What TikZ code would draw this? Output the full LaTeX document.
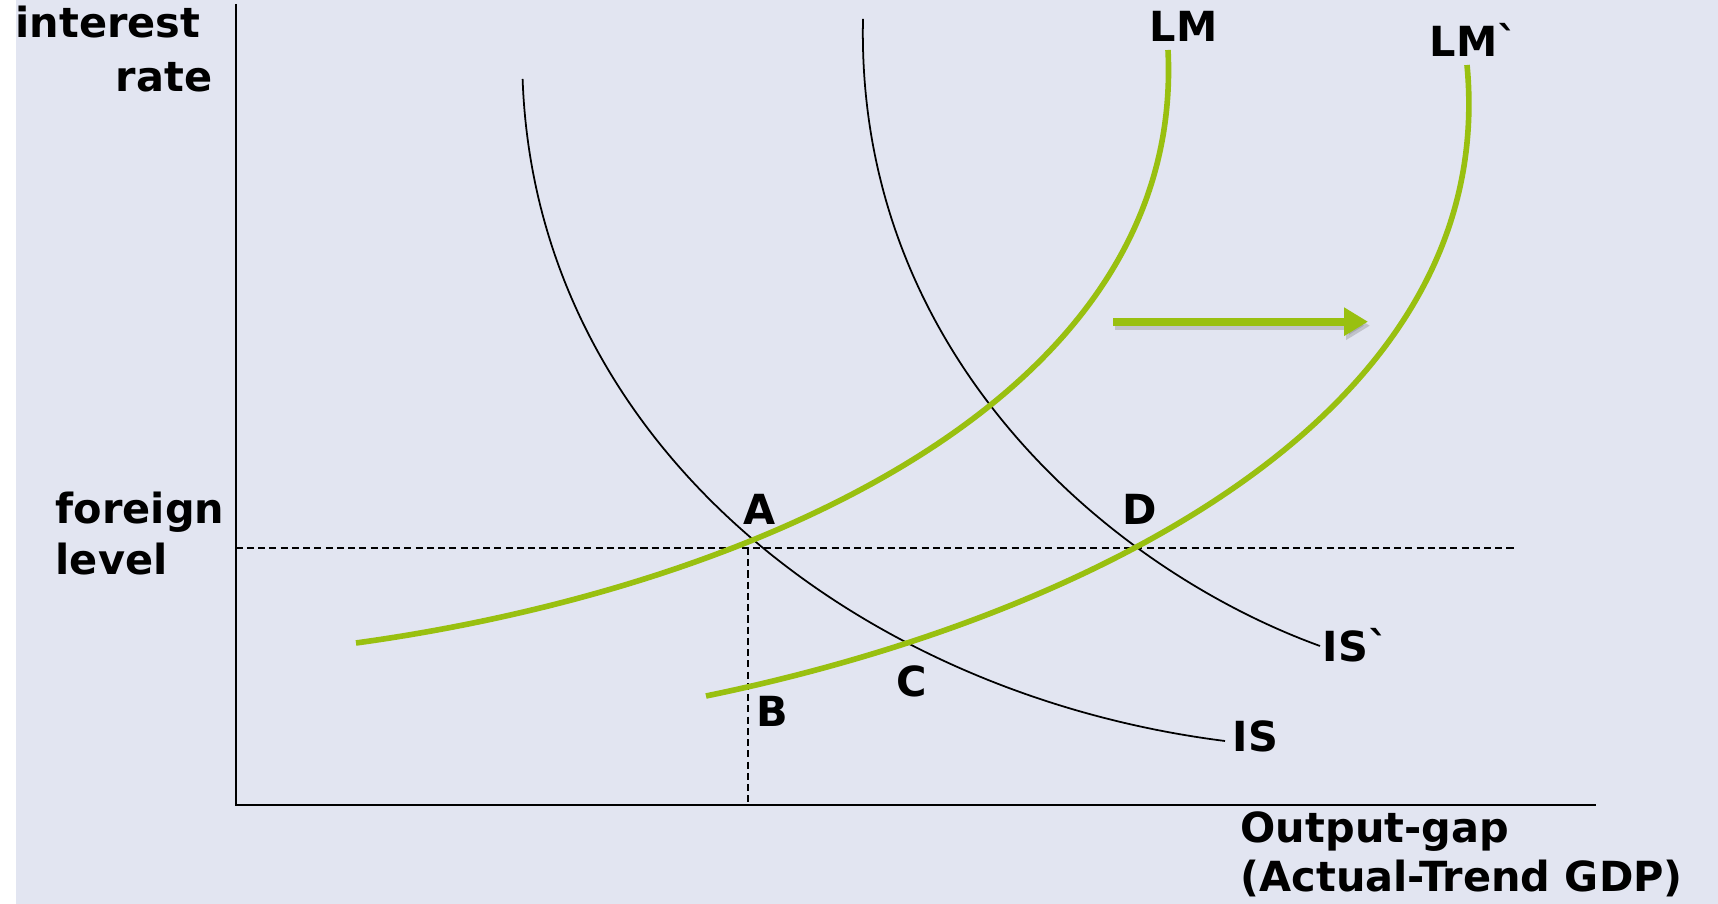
\documentclass[tikz,border=0pt]{standalone}
\usepackage{fontspec}
\setmainfont{DejaVu Sans}
\usepackage{tikz}
\usetikzlibrary{
  arrows.meta
}

\definecolor{bglav}{RGB}{226,229,241}
\definecolor{lmgreen}{RGB}{153,192,16}

\begin{document}
\begin{tikzpicture}[
  font=\fontsize{11.8}{14}\selectfont\bfseries,
  iscurve/.style={
    draw=black,
    line width=0.5pt
  },
  lmcurve/.style={
    draw=lmgreen,
    line width=1.6pt
  },
  guide/.style={
    draw=black,
    line width=0.45pt,
    dash pattern=on 2pt off 1.2pt
  },
  lbl/.style={
    anchor=base west,
    inner sep=0pt
  },
  shiftarrow/.style={
    line width=0.08cm,
    -{Triangle[length=0.24cm,width=0.27cm]}
  }
]

% Background
\useasboundingbox (-2.356,-0.99) rectangle (14.824,8.05);
\fill[white] (-2.356,-0.99) rectangle (14.824,8.05);
\fill[bglav] (-2.196,-0.99) rectangle (14.824,8.05);

% Axes
\draw[line width=0.6pt] (0,8.01) -- (0,0) -- (13.60,0);

% Foreign level (dashed guides)
\coordinate (ptA) at (5.124,2.57);
\draw[guide] (0,2.57) -- (12.81,2.57);
\draw[guide] (ptA) -- (ptA |- 0,0);

% IS curves
\draw[iscurve] (2.87,7.26) .. controls (3.0,3.6) and (6.25,1.1) .. (9.894,0.64);
\draw[iscurve] (6.274,7.86) .. controls (6.2,4.5) and (8.75,2.35) .. (10.844,1.59);

% LM curves
\draw[lmcurve] (1.204,1.62) .. controls (5.05,2.15) and (9.5,4.0) .. (9.324,7.55);
\draw[lmcurve] (4.704,1.09) .. controls (8.4,1.85) and (12.65,3.85) .. (12.314,7.40);

% Shift arrow (with a soft shadow)
\coordinate (shiftL) at (8.774,4.833);
\coordinate (shiftR) at (11.324,4.833);
\draw[shiftarrow, draw=black!55, fill=black!55, opacity=0.3]
  ([shift={(0.02,-0.04)}]shiftL) -- ([shift={(0.02,-0.04)}]shiftR);
\draw[shiftarrow, draw=lmgreen, fill=lmgreen] (shiftL) -- (shiftR);

% Axis labels
\node[lbl] (lblInterest) at (-2.206,7.67) {interest};
\node[lbl, anchor=base east] (lblRate) at (-0.226,7.13) {rate};
\node[lbl] (lblForeign) at (-1.806,2.81) {foreign};
\node[lbl] (lblLevel) at (-1.806,2.30) {level};
\node[lbl] (lblOutput) at (10.044,-0.38) {Output-gap};
\node[lbl] (lblTrend) at (10.044,-0.87) {(Actual-Trend GDP)};

% Curve labels
\node[lbl] (lblLM) at (9.134,7.63) {LM};
\node[lbl] (lblLMp) at (11.934,7.48) {LM\textasciigrave};
\node[lbl] (lblIS) at (9.964,0.53) {IS};
\node[lbl] (lblISp) at (10.864,1.43) {IS\textasciigrave};

% Points
\foreach \pt/\x/\y in {A/5.074/2.80, B/5.204/0.78, C/6.604/1.08, D/8.864/2.80}
  \node[lbl] (lbl\pt) at (\x,\y) {\pt};

\end{tikzpicture}
\end{document}
